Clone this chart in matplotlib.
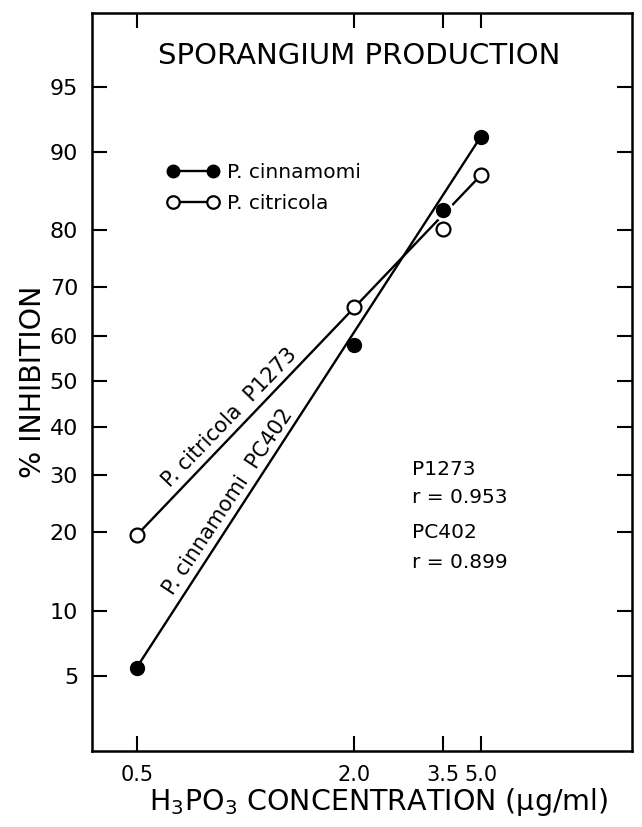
import numpy as np
import matplotlib
matplotlib.use("Agg")
import matplotlib.pyplot as plt
from matplotlib.lines import Line2D
from matplotlib.ticker import NullLocator, FixedLocator
from statistics import NormalDist

plt.rcParams['font.family'] = 'DejaVu Sans'
plt.rcParams['mathtext.default'] = 'regular'

# H3PO3 concentration (ug/ml) and % inhibition of sporangium production
conc = [0.5, 2.0, 3.5, 5.0]
cinnamomi_pct = [5.5, 58.0, 83.0, 91.4]
citricola_pct = [19.5, 66.0, 80.2, 87.5]

# regression lines (end points)
fit_conc = [0.5, 5.0]
cinnamomi_fit = [5.5, 91.4]
citricola_fit = [19.5, 87.5]

x_ticks = [0.5, 2.0, 3.5, 5.0]
x_ticklabels = ['0.5', '2.0', '3.5', '5.0']
y_ticks = [5, 10, 20, 30, 40, 50, 60, 70, 80, 90, 95]

# x axis: hand-drafted log axis (tick spacing as drawn, in decades)
_log_knots = np.log10(x_ticks)
_axis_knots = np.array([0.0, 0.602, 0.848, 0.953])


def x_fwd(x):
    lx = np.log10(np.clip(np.asarray(x, dtype=float), 1e-9, None))
    u = np.interp(lx, _log_knots, _axis_knots)
    u = np.where(lx < _log_knots[0], _axis_knots[0] + lx - _log_knots[0], u)
    u = np.where(lx > _log_knots[-1], _axis_knots[-1] + lx - _log_knots[-1], u)
    return u


def x_inv(u):
    u = np.asarray(u, dtype=float)
    lx = np.interp(u, _axis_knots, _log_knots)
    lx = np.where(u < _axis_knots[0], _log_knots[0] + u - _axis_knots[0], lx)
    lx = np.where(u > _axis_knots[-1], _log_knots[-1] + u - _axis_knots[-1], lx)
    return 10.0 ** lx


# y axis: probit scale
_nd = NormalDist()
_ppf = np.vectorize(_nd.inv_cdf, otypes=[float])
_cdf = np.vectorize(_nd.cdf, otypes=[float])


def probit(p):
    p = np.clip(np.asarray(p, dtype=float), 1e-6, 100 - 1e-6) / 100.0
    return _ppf(p)


def inv_probit(z):
    return 100.0 * _cdf(np.asarray(z, dtype=float))


fig = plt.figure(figsize=(6.42, 8.27), dpi=100)
ax = fig.add_axes([0.1433, 0.0919, 0.8411, 0.892])

ax.set_xscale('function', functions=(x_fwd, x_inv))
ax.set_yscale('function', functions=(probit, inv_probit))
ax.set_xlim(0.376, 13.1)
ax.set_ylim(1.95, 98.0)

# fitted lines (citricola line is broken where it passes the 3.5 markers)
ax.plot(fit_conc, citricola_fit, color='black', lw=1.7, zorder=2)
ax.plot(conc[2], cinnamomi_pct[2], 'o', ms=14, color='white', zorder=2.5)
ax.plot(fit_conc, cinnamomi_fit, color='black', lw=1.7, zorder=3)

# observed points
ax.plot(conc, cinnamomi_pct, 'o', ms=10, color='black', zorder=4)
ax.plot(conc, citricola_pct, 'o', ms=10, mfc='white', mec='black', mew=1.6, zorder=4)

ax.xaxis.set_major_locator(FixedLocator(x_ticks))
ax.xaxis.set_minor_locator(NullLocator())
ax.set_xticklabels(x_ticklabels)
ax.yaxis.set_major_locator(FixedLocator(y_ticks))
ax.yaxis.set_minor_locator(NullLocator())
ax.set_yticklabels([str(v) for v in y_ticks])

ax.tick_params(direction='in', top=True, right=True, length=11, width=1.5, pad=10)
ax.tick_params(axis='y', labelsize=16)
ax.tick_params(axis='x', labelsize=15)
for s in ax.spines.values():
    s.set_linewidth(1.8)

ax.set_xlabel('H$_3$PO$_3$ CONCENTRATION (\u03bcg/ml)', fontsize=20.5)
ax.xaxis.set_label_coords(0.531, -0.048)
ax.set_ylabel('% INHIBITION', fontsize=20.5, labelpad=2)

ax.text(0.494, 0.942, 'SPORANGIUM PRODUCTION', transform=ax.transAxes,
        ha='center', va='center', fontsize=21)

# legend
handles = [
    Line2D([], [], color='black', lw=1.7, marker='o', ms=9, mfc='black', mec='black'),
    Line2D([], [], color='black', lw=1.7, marker='o', ms=9, mfc='white', mec='black', mew=1.6),
]
ax.legend(handles, ['P. cinnamomi', 'P. citricola'], loc='upper left',
          bbox_to_anchor=(0.138, 0.797), frameon=False, numpoints=2,
          fontsize=14.5, handlelength=2.6, handletextpad=0.4,
          labelspacing=0.6, borderpad=0, borderaxespad=0)

# labels along the fitted lines
ax.text(0.2556, 0.4514, 'P. citricola  P1273', transform=ax.transAxes,
        rotation=46, rotation_mode='anchor', ha='center', va='center', fontsize=15)
ax.text(0.2519, 0.3375, 'P. cinnamomi  PC402', transform=ax.transAxes,
        rotation=56.5, rotation_mode='anchor', ha='center', va='center', fontsize=15)

# correlation coefficients
ax.text(0.593, 0.381, 'P1273', transform=ax.transAxes, va='center', fontsize=14.5)
ax.text(0.593, 0.343, 'r = 0.953', transform=ax.transAxes, va='center', fontsize=14.5)
ax.text(0.593, 0.296, 'PC402', transform=ax.transAxes, va='center', fontsize=14.5)
ax.text(0.593, 0.256, 'r = 0.899', transform=ax.transAxes, va='center', fontsize=14.5)

fig.savefig('out.png', dpi=100)
